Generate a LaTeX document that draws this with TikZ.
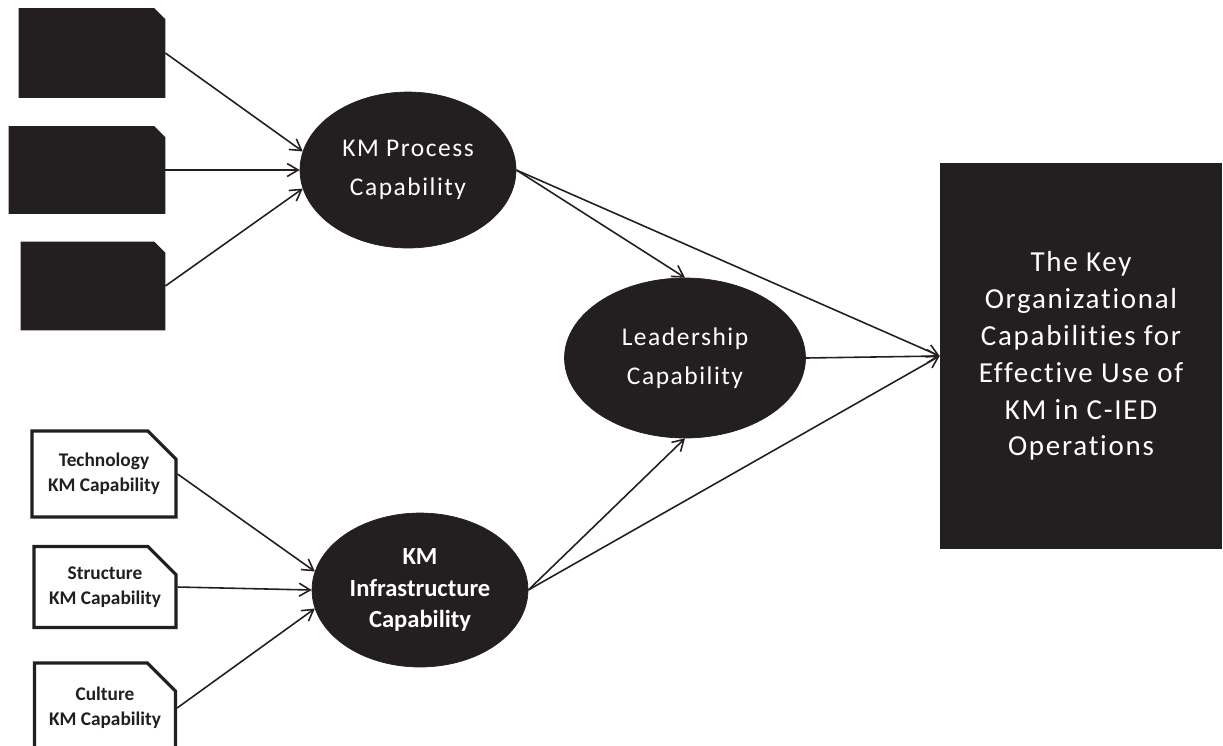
\documentclass[tikz,border=0pt]{standalone}
\usepackage{fontspec}
\setmainfont{Carlito}[Ligatures=NoCommon]
\newfontfamily\spaced{Carlito}[LetterSpace=6, Ligatures=NoCommon]
\usetikzlibrary{shapes.geometric,shapes.misc,arrows.meta}
\definecolor{ink}{HTML}{231F20}

\begin{document}
\begin{tikzpicture}[x=0.02cm,y=-0.02cm]
    \tikzstyle{every node}=[inner sep=0pt, align=center]
    \tikzstyle{tab}=[chamfered rectangle, chamfered rectangle corners=north east, chamfered rectangle xsep=0.26cm, chamfered rectangle ysep=0.3cm]
    \tikzstyle{darktab}=[tab, fill=ink, draw=ink, line width=1pt, text=ink]
    \tikzstyle{lighttab}=[tab, fill=white, draw=ink, line width=1.8pt, text=ink, font=\bfseries\fontsize{11}{14}\selectfont]
    \tikzstyle{blob}=[ellipse, fill=ink, draw=ink, text=white, font=\spaced\fontsize{14.5}{22}\selectfont]
    \tikzstyle{edge}=[ink, line width=0.9pt, -{Straight Barb[length=2.2mm,width=2.6mm]}]

    \useasboundingbox (0,0) rectangle (1223,745);

    % process side
    \node[darktab, minimum width=2.9cm, minimum height=1.76cm] (p1) at (92,53) {\strut};
    \node[darktab, minimum width=3.1cm, minimum height=1.72cm] (p2) at (87,170) {\strut};
    \node[darktab, minimum width=2.86cm, minimum height=1.74cm] (p3) at (93,286) {\strut};
    \node[blob, minimum width=4.32cm, minimum height=3.12cm] (proc) at (408,170) {KM Process\\Capability};

    % infrastructure side
    \node[lighttab, minimum width=2.88cm, minimum height=1.72cm] (tech) at (104,474) {Technology\\KM Capability};
    \node[lighttab, minimum width=2.84cm, minimum height=1.62cm] (struc) at (105,587) {Structure\\KM Capability};
    \node[lighttab, minimum width=2.82cm, minimum height=1.8cm] (cult) at (105,708) {Culture\\KM Capability};
    \node[blob, font=\bfseries\fontsize{14}{18}\selectfont, minimum width=4.32cm, minimum height=3.08cm] (infra) at (420,590) {KM\\Infrastructure\\Capability};

    \node[blob, minimum width=4.82cm, minimum height=3.2cm] (lead) at (685,358) {Leadership\\Capability};
    \node[fill=ink, text=white, font=\spaced\fontsize{16.5}{21}\selectfont, minimum width=5.64cm, minimum height=7.74cm] (goal) at (1081,356) {The Key\\Organizational\\Capabilities for\\Effective Use of\\KM in C-IED\\Operations};

    \draw[edge] (p1.east) -- (proc.170);
    \draw[edge] (p2.east) -- (proc.180);
    \draw[edge] (p3.east) -- (proc.190);
    \draw[edge] (tech.east) -- (infra.170);
    \draw[edge] (struc.east) -- (infra.180);
    \draw[edge] (cult.east) -- (infra.190);

    \draw[edge] (proc.east) -- (lead.north);
    \draw[edge] (proc.east) -- (goal.west);
    \draw[edge] (lead.east) -- (goal.west);
    \draw[edge] (infra.east) -- (lead.south);
    \draw[edge] (infra.east) -- (goal.west);
\end{tikzpicture}
\end{document}
